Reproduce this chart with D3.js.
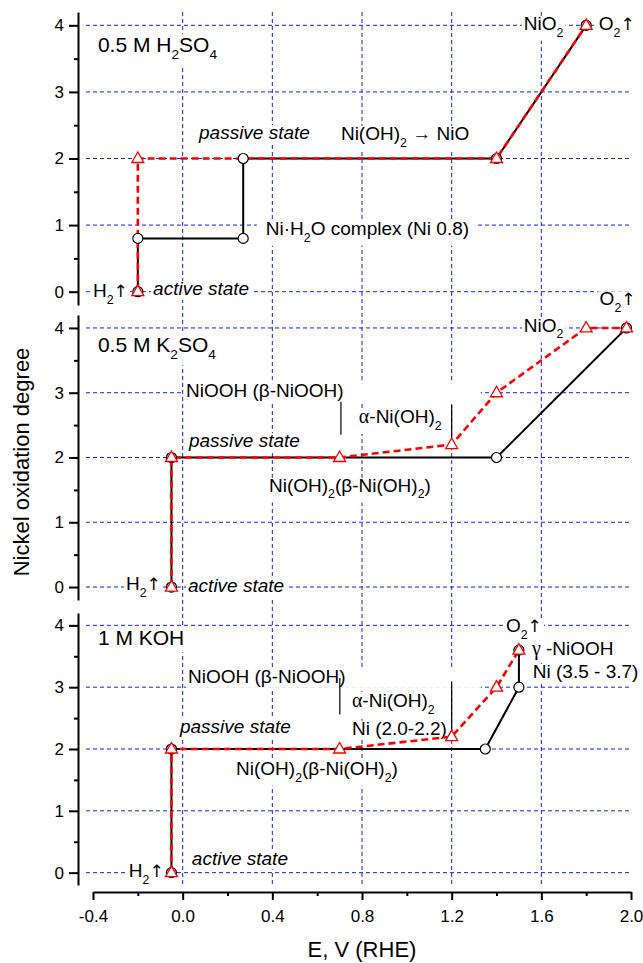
<!DOCTYPE html>
<html>
<head>
<meta charset="utf-8">
<script src="https://cdn.jsdelivr.net/npm/d3@7"></script>
<style>
  body { margin: 0; background: #fff; }
  svg { display: block; }
</style>
</head>
<body>
<div id="chart"></div>
<script>
// nickel oxidation degree vs potential, three electrolytes

var xTicks = [-0.4, 0.0, 0.4, 0.8, 1.2, 1.6, 2.0];
var xMinor = [-0.2, 0.2, 0.6, 1.0, 1.4, 1.8];
var xGrid = [0.0, 0.4, 0.8, 1.2, 1.6];
var yTicks = [0, 1, 2, 3, 4];
var yMinor = [0.5, 1.5, 2.5, 3.5];

// 0.5 M H2SO4
var h2so4CircleE = [-0.2, -0.2, 0.27, 0.27, 1.4, 1.8];
var h2so4CircleN = [0, 0.8, 0.8, 2, 2, 4];
var h2so4TriE = [-0.2, -0.2, 1.4, 1.8];
var h2so4TriN = [0, 2, 2, 4];

// 0.5 M K2SO4
var k2so4CircleE = [-0.05, -0.05, 1.4, 1.98];
var k2so4CircleN = [0, 2, 2, 4];
var k2so4TriE = [-0.05, -0.05, 0.7, 1.2, 1.4, 1.8, 1.98];
var k2so4TriN = [0, 2, 2, 2.2, 3, 4, 4];

// 1 M KOH
var kohCircleE = [-0.05, -0.05, 1.35, 1.5, 1.5];
var kohCircleN = [0, 2, 2, 3, 3.6];
var kohTriE = [-0.05, -0.05, 0.7, 1.2, 1.4, 1.5];
var kohTriN = [0, 2, 2, 2.2, 3, 3.6];

// annotations, placed in data units (_d = subscript digit)
var h2so4Labels = [
  {t: "0.5 M H_2SO_4", e: -0.378, n: 3.6, title: true},
  {t: "passive state", e: 0.073, n: 2.29, it: true},
  {t: "Ni(OH)_2 \u2192 NiO", e: 0.706, n: 2.28},
  {t: "Ni\u00b7H_2O complex (Ni 0.8)", e: 0.371, n: 0.85, pad: 9},
  {t: "NiO_2", e: 1.522, n: 3.93},
  {t: "O_2\u2191", e: 1.856, n: 3.93},
  {t: "H_2\u2191", e: -0.4, n: -0.08},
  {t: "active state", e: -0.132, n: -0.05, it: true}
];
var k2so4Labels = [
  {t: "0.5 M K_2SO_4", e: -0.378, n: 3.63, title: true},
  {t: "NiOOH (\u03b2-NiOOH)", e: 0.015, n: 2.93, boxTo: 1.33},
  {t: "\u03b1-Ni(OH)_2", e: 0.786, n: 2.53},
  {t: "passive state", e: 0.028, n: 2.16, it: true},
  {t: "Ni(OH)_2(\u03b2-Ni(OH)_2)", e: 0.385, n: 1.47},
  {t: "NiO_2", e: 1.522, n: 3.94},
  {t: "O_2\u2191", e: 1.86, n: 4.35},
  {t: "H_2\u2191", e: -0.253, n: -0.05},
  {t: "active state", e: 0.024, n: -0.08, it: true}
];
var kohLabels = [
  {t: "1 M KOH", e: -0.378, n: 3.68, title: true},
  {t: "NiOOH (\u03b2-NiOOH)", e: 0.024, n: 3.07, boxTo: 1.33},
  {t: "passive state", e: -0.012, n: 2.26, it: true},
  {t: "Ni(OH)_2(\u03b2-Ni(OH)_2)", e: 0.238, n: 1.58},
  {t: "\u03b1-Ni(OH)_2", e: 0.755, n: 2.68},
  {t: "Ni (2.0-2.2)", e: 0.755, n: 2.23},
  {t: "O_2\u2191", e: 1.442, n: 3.89},
  {t: "\u03b3 -NiOOH", e: 1.558, n: 3.52},
  {t: "Ni (3.5 - 3.7)", e: 1.562, n: 3.15},
  {t: "H_2\u2191", e: -0.24, n: -0.07},
  {t: "active state", e: 0.041, n: 0.12, it: true, padB: 0}
];
var h2so4Brackets = [];
var k2so4Brackets = [[0.706, 2.35, 2.86], [1.2, 2.27, 2.81]];
var kohBrackets = [[0.701, 2.56, 3.15], [1.2, 2.26, 3.09]];

var width = 643, height = 963;
var font = "'Liberation Sans', Arial, Helvetica, sans-serif";
var serif = "'Liberation Serif', 'DejaVu Serif', serif";

var svg = d3.select("#chart").append("svg")
    .attr("width", width)
    .attr("height", height)
    .style("font-family", font);

var x = d3.scaleLinear().domain([-0.4, 2.0]).range([93, 631]);
var axisX = 78;

var panels = [
  {range: [305, 12], circE: h2so4CircleE, circN: h2so4CircleN, triE: h2so4TriE, triN: h2so4TriN, labels: h2so4Labels, brackets: h2so4Brackets},
  {range: [600, 315], circE: k2so4CircleE, circN: k2so4CircleN, triE: k2so4TriE, triN: k2so4TriN, labels: k2so4Labels, brackets: k2so4Brackets},
  {range: [885, 613], circE: kohCircleE, circN: kohCircleN, triE: kohTriE, triN: kohTriN, labels: kohLabels, brackets: kohBrackets}
];
panels.forEach(function(p) {
  p.y = d3.scaleLinear().domain([-0.2, 4.2]).range(p.range);
});

var gridG = svg.append("g");
var boxG = svg.append("g");
var textG = svg.append("g");
var dataG = svg.append("g");
var axisG = svg.append("g");

// vertical grid runs through all three panels
gridG.selectAll("line.v")
  .data(xGrid)
  .enter().append("line")
    .attr("x1", x).attr("x2", x)
    .attr("y1", 12).attr("y2", 885)
    .attr("stroke", "#1a1aff")
    .attr("stroke-width", 1)
    .attr("stroke-dasharray", "4,3");

var triPath = "M0,-6.5L6,4L-6,4Z";

function zip(a, b) { return a.map(function(v, i) { return [v, b[i]]; }); }

function addLabel(d, y) {
  var fs = d.title ? 21 : 19;
  var t = textG.append("text")
      .attr("x", x(d.e))
      .attr("y", y(d.n))
      .attr("font-size", fs)
      .attr("font-style", d.it ? "italic" : null)
      .attr("fill", "#000");
  var parts = d.t.split(/_(\d)/);
  var cur = 0;
  parts.forEach(function(s, i) {
    if (!s) return;
    var sub = i % 2 === 1;
    var target = sub ? fs * 0.35 : 0;
    // arrows and some greek letters come from other faces, as in the original
    s.split(/([\u2191\u03b1\u03b3])/).forEach(function(piece, j) {
      if (!piece) return;
      var ts = t.append("tspan")
        .attr("dy", target - cur)
        .attr("font-size", sub ? fs * 0.65 : null)
        .text(piece);
      cur = target;
      if (piece === "\u2191") ts.attr("font-family", "'DejaVu Sans', sans-serif").attr("font-size", fs * 0.9);
      else if (j % 2 === 1) ts.attr("font-family", serif).attr("font-size", fs * 1.05);
    });
  });
  var b = t.node().getBBox();
  var pad = d.pad != null ? d.pad : 2;
  var x0 = d.title ? 84 : b.x - pad;
  var x1 = d.boxTo != null ? x(d.boxTo) : b.x + b.width + pad;
  var top = b.y + (d.title ? 4 : 3);
  var bot = b.y + b.height + (d.padB != null ? d.padB : 1);
  if (d.title) { top -= 3; bot += 2; }
  boxG.append("rect")
    .attr("x", x0).attr("y", top)
    .attr("width", x1 - x0).attr("height", bot - top)
    .attr("fill", "#fff");
}

panels.forEach(function(p) {
  var y = p.y;

  gridG.selectAll(null)
    .data(yTicks)
    .enter().append("line")
      .attr("x1", 86).attr("x2", 631)
      .attr("y1", y).attr("y2", y)
      .attr("stroke", "#1a1aff")
      .attr("stroke-width", 1)
      .attr("stroke-dasharray", "4,3");

  p.labels.forEach(function(d) { addLabel(d, y); });

  dataG.selectAll(null)
    .data(p.brackets)
    .enter().append("line")
      .attr("x1", function(d) { return x(d[0]); })
      .attr("x2", function(d) { return x(d[0]); })
      .attr("y1", function(d) { return y(d[1]); })
      .attr("y2", function(d) { return y(d[2]); })
      .attr("stroke", "#000")
      .attr("stroke-width", 1.2);

  var line = d3.line()
      .x(function(d) { return x(d[0]); })
      .y(function(d) { return y(d[1]); });

  var circ = zip(p.circE, p.circN);
  var tri = zip(p.triE, p.triN);

  dataG.append("path")
    .attr("d", line(circ))
    .attr("fill", "none")
    .attr("stroke", "#000")
    .attr("stroke-width", 2);

  dataG.append("path")
    .attr("d", line(tri))
    .attr("fill", "none")
    .attr("stroke", "#ff0000")
    .attr("stroke-width", 2.6)
    .attr("stroke-dasharray", "7,4");

  dataG.selectAll(null)
    .data(circ)
    .enter().append("circle")
      .attr("cx", function(d) { return x(d[0]); })
      .attr("cy", function(d) { return y(d[1]); })
      .attr("r", 5)
      .attr("fill", "#fff")
      .attr("stroke", "#000")
      .attr("stroke-width", 1.2);

  dataG.selectAll(null)
    .data(tri)
    .enter().append("path")
      .attr("d", triPath)
      .attr("transform", function(d) { return "translate(" + x(d[0]) + "," + y(d[1]) + ")"; })
      .attr("fill", "#fff")
      .attr("stroke", "#ff0000")
      .attr("stroke-width", 1.3);

  // y axis, major + minor
  var ya = axisG.append("g")
      .attr("transform", "translate(" + axisX + ",0)")
      .call(d3.axisLeft(y).tickValues(yTicks).tickSizeInner(9).tickSizeOuter(0).tickPadding(5)
        .tickFormat(function(d) { return d; }));
  ya.select(".domain").attr("stroke-width", 2);
  ya.selectAll(".tick line").attr("stroke-width", 2);
  ya.selectAll("text").attr("font-size", 17).attr("font-family", font).attr("fill", "#000");

  axisG.append("g")
      .attr("transform", "translate(" + axisX + ",0)")
      .call(d3.axisLeft(y).tickValues(yMinor).tickSizeInner(4).tickSizeOuter(0).tickFormat(""))
      .call(function(g) { g.select(".domain").remove(); })
      .selectAll(".tick line").attr("stroke-width", 2);
});

// x axis
var xa = axisG.append("g")
    .attr("transform", "translate(0,892)")
    .call(d3.axisBottom(x).tickValues(xTicks).tickSizeInner(8).tickSizeOuter(0).tickPadding(10)
      .tickFormat(function(d) { return d.toFixed(1); }));
xa.select(".domain").attr("stroke-width", 2);
xa.selectAll(".tick line").attr("stroke-width", 2);
xa.selectAll("text").attr("font-size", 17).attr("font-family", font).attr("fill", "#000");

axisG.append("g")
    .attr("transform", "translate(0,892)")
    .call(d3.axisBottom(x).tickValues(xMinor).tickSizeInner(4).tickSizeOuter(0).tickFormat(""))
    .call(function(g) { g.select(".domain").remove(); })
    .selectAll(".tick line").attr("stroke-width", 2);

svg.append("text")
    .attr("x", 362)
    .attr("y", 957)
    .attr("text-anchor", "middle")
    .attr("font-size", 22)
    .text("E, V (RHE)");

svg.append("text")
    .attr("transform", "translate(29,462) rotate(-90)")
    .attr("text-anchor", "middle")
    .attr("font-size", 22)
    .text("Nickel oxidation degree");
</script>
</body>
</html>
